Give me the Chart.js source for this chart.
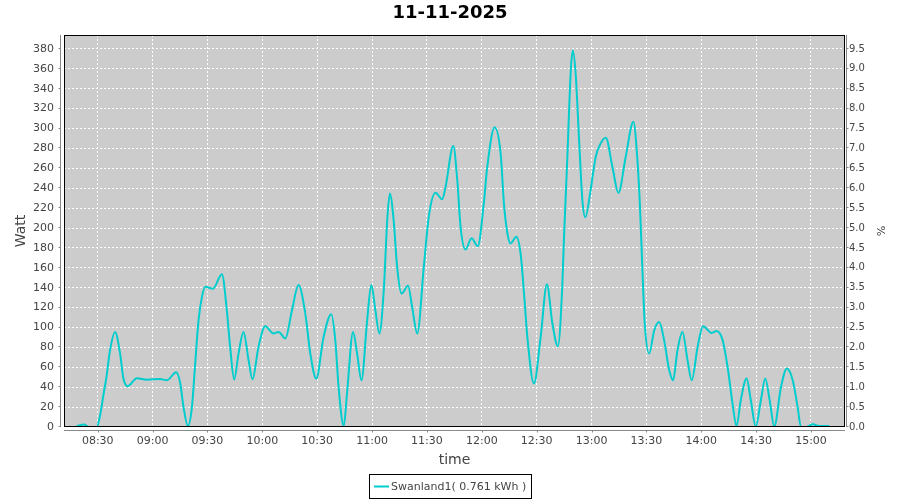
<!DOCTYPE html>
<html>
<head>
<meta charset="utf-8">
<script src="https://cdn.jsdelivr.net/npm/chart.js@4.4.1/dist/chart.umd.min.js"></script>
<style>
  html, body { margin: 0; padding: 0; background: #ffffff; }
  #wrap { width: 900px; height: 500px; }
</style>
</head>
<body>
<div id="wrap"><canvas id="c" width="900" height="500"></canvas></div>
<script>
// ---- data ----
const chartTitle = '11-11-2025';
const seriesLabel = 'Swanland1( 0.761 kWh )';
const xTitle = 'time';
const yLeftTitle = 'Watt';
const yRightTitle = '%';

// time of each reading, in minutes after midnight
const minutes = [498.5, 502.5, 505.2, 509.5, 511.3, 513.1, 514.9, 516.7, 519.5, 522.2,
  524.0, 526.4, 531.4, 536.8, 544.1, 547.8, 552.9, 555.1, 556.9, 559.3,
  561.5, 563.3, 565.1, 567.0, 568.8, 573.0, 577.9, 580.6, 582.4, 584.6,
  587.0, 589.7, 592.5, 594.6, 597.9, 601.6, 606.1, 608.9, 612.6, 616.2,
  619.8, 623.5, 626.2, 629.5, 633.5, 637.7, 639.9, 641.7, 644.5, 646.3,
  649.6, 651.8, 654.2, 657.3, 659.6, 661.8, 664.0, 666.4, 668.3, 669.7,
  671.8, 673.7, 676.1, 679.7, 681.9, 684.7, 688.3, 691.0, 694.7, 698.3,
  700.2, 704.4, 706.6, 708.4, 711.1, 714.4, 717.8, 721.1, 723.0, 727.0,
  730.3, 732.1, 734.0, 735.7, 738.9, 741.2, 743.1, 744.9, 748.5, 752.2,
  755.6, 758.6, 761.6, 764.0, 764.9, 766.8, 768.6, 769.7, 771.3, 773.2,
  775.0, 776.6, 779.5, 782.3, 785.0, 787.8, 791.4, 794.7, 798.7, 802.9,
  805.1, 806.5, 807.9, 809.1, 811.5, 814.3, 817.0, 819.7, 822.5, 824.6,
  827.0, 829.7, 832.5, 834.8, 838.0, 841.0, 845.7, 848.4, 851.7, 854.4,
  857.1, 859.3, 861.6, 864.8, 867.1, 869.8, 872.6, 875.0, 877.4, 879.9,
  883.6, 886.8, 890.0, 892.7, 894.5, 897.3, 901.1, 904.4, 910.0];

// power in watt at each reading
const watts = [1, 2.4, 0, 0, 12, 32, 52, 77, 95.5, 74,
  49, 41, 49, 47.5, 48.3, 47, 55, 44, 20, 1,
  20, 64, 107, 131, 141, 139, 153.6, 117, 80.5, 47.7,
  74, 95.6, 67, 48, 80.5, 101.3, 94, 95.6, 89, 117.4,
  142.6, 114, 74, 48.7, 90.6, 113.4, 87, 40, 1, 33.6,
  95.6, 74, 47, 107, 142.6, 117.4, 94, 137.5, 208, 234.8,
  208, 161, 134.2, 141.9, 120.7, 94, 161, 211.3, 235.4, 229,
  241.5, 282.4, 248, 201, 178.5, 189.6, 181.8, 224.8, 261.6, 301.2,
  275, 224.8, 194.6, 184.5, 191.2, 174.5, 134.2, 90.6, 43.7, 90.6,
  143.6, 104, 81.2, 141, 188, 272, 356, 378.3, 355.6, 288.5,
  228, 210.7, 238.2, 271.7, 285.1, 290.8, 261.6, 235.4, 271.7, 306.9,
  268.3, 221.3, 154.3, 104, 73.8, 97.3, 105.6, 87.2, 57, 47,
  77.2, 95.6, 67.1, 47, 80.5, 101.3, 94.6, 96.6, 87.2, 60.4,
  23.5, 1, 26.9, 48.7, 26.9, 0.5, 26.9, 48.7, 26.9, 0.5,
  40.2, 58.8, 47, 20, 0, 0, 2.7, 1, 1];

const xTickLabels = ['08:30', '09:00', '09:30', '10:00', '10:30', '11:00', '11:30',
  '12:00', '12:30', '13:00', '13:30', '14:00', '14:30', '15:00'];
const yLeftTicks = [0, 20, 40, 60, 80, 100, 120, 140, 160, 180, 200, 220, 240, 260,
  280, 300, 320, 340, 360, 380];
const yRightTicks = [0.0, 0.5, 1.0, 1.5, 2.0, 2.5, 3.0, 3.5, 4.0, 4.5, 5.0, 5.5, 6.0,
  6.5, 7.0, 7.5, 8.0, 8.5, 9.0, 9.5];

const xRange = ['08:11:33', '15:18:36'];
const yLeftMax = 394;
const yRightMax = 9.85;

// ---- helpers ----
function toMin(s) {
  const p = s.split(':').map(Number);
  return p[0] * 60 + p[1] + (p[2] || 0) / 60;
}
function fmtMin(v) {
  const h = Math.floor(v / 60), m = Math.round(v - h * 60);
  return String(h).padStart(2, '0') + ':' + String(m).padStart(2, '0');
}

Chart.defaults.font.family = '"DejaVu Sans", sans-serif';
const tickFont = { family: '"DejaVu Sans", sans-serif', size: 11 };
const tickColor = '#444444';
const lineColor = '#00cdcd';

const framePlugin = {
  id: 'frame',
  beforeDraw(chart) {
    const { ctx, chartArea: a } = chart;
    ctx.save();
    ctx.fillStyle = '#cccccc';
    ctx.fillRect(a.left, a.top, a.right - a.left, a.bottom - a.top);
    ctx.restore();
  },
  afterDatasetsDraw(chart) {
    const { ctx, chartArea: a, scales } = chart;
    ctx.save();
    ctx.strokeStyle = '#000000';
    ctx.lineWidth = 1;
    ctx.strokeRect(a.left + 0.5, a.top + 0.5, a.right - a.left - 1, a.bottom - a.top - 1);

    ctx.strokeStyle = '#888888';
    ctx.beginPath();
    // left axis line with ticks
    const lx = a.left - 3.5;
    ctx.moveTo(lx, a.top); ctx.lineTo(lx, a.bottom);
    scales.y.ticks.forEach(t => {
      const py = Math.round(scales.y.getPixelForValue(t.value)) - 0.5;
      ctx.moveTo(lx - 2, py); ctx.lineTo(lx, py);
    });
    // right axis line with ticks
    const rx = a.right + 1.5;
    ctx.moveTo(rx, a.top); ctx.lineTo(rx, a.bottom);
    scales.y2.ticks.forEach(t => {
      const py = Math.round(scales.y2.getPixelForValue(t.value)) - 0.5;
      ctx.moveTo(rx, py); ctx.lineTo(rx + 2, py);
    });
    // bottom axis line with ticks
    const by = a.bottom + 3.5;
    ctx.moveTo(a.left, by); ctx.lineTo(a.right, by);
    scales.x.ticks.forEach(t => {
      const px = Math.round(scales.x.getPixelForValue(t.value)) + 0.5;
      ctx.moveTo(px, by); ctx.lineTo(px, by + 2);
    });
    ctx.stroke();
    ctx.restore();
  },
  afterDraw(chart) {
    // boxed legend below the plot
    const ctx = chart.ctx;
    const ds = chart.data.datasets[0];
    ctx.save();
    ctx.font = '11px "DejaVu Sans", sans-serif';
    const tw = ctx.measureText(ds.label).width;
    const padL = 5, sample = 15, gap = 2, padR = 5;
    const w = Math.round(padL + sample + gap + tw + padR);
    const x0 = Math.round(449.5 - w / 2);
    const y0 = 474, h = 24;
    ctx.strokeStyle = '#000000';
    ctx.lineWidth = 1;
    ctx.strokeRect(x0 + 0.5, y0 + 0.5, w, h);
    ctx.strokeStyle = ds.borderColor;
    ctx.lineWidth = 2;
    ctx.beginPath();
    ctx.moveTo(x0 + padL, y0 + 12.5);
    ctx.lineTo(x0 + padL + sample, y0 + 12.5);
    ctx.stroke();
    ctx.fillStyle = tickColor;
    ctx.textBaseline = 'middle';
    ctx.textAlign = 'left';
    ctx.fillText(ds.label, x0 + padL + sample + gap, y0 + 13);
    ctx.restore();
  }
};

const points = minutes.map((m, i) => ({ x: m, y: watts[i] }));

new Chart(document.getElementById('c'), {
  type: 'line',
  data: {
    datasets: [{
      label: seriesLabel,
      data: points,
      borderColor: lineColor,
      backgroundColor: lineColor,
      borderWidth: 2,
      pointRadius: 0,
      fill: false,
      cubicInterpolationMode: 'monotone',
      yAxisID: 'y'
    }]
  },
  options: {
    responsive: false,
    animation: false,
    devicePixelRatio: 1,
    layout: { padding: 0 },
    plugins: {
      legend: { display: false },
      tooltip: { enabled: false },
      title: {
        display: true,
        text: chartTitle,
        color: '#000000',
        font: { family: '"DejaVu Sans", sans-serif', size: 18, weight: 'bold' },
        padding: { top: 2.2, bottom: 11.2 }
      }
    },
    scales: {
      x: {
        type: 'linear',
        min: toMin(xRange[0]),
        max: toMin(xRange[1]),
        afterBuildTicks: s => { s.ticks = xTickLabels.map(l => ({ value: toMin(l) })); },
        afterFit: s => { s.height = 73; },
        ticks: {
          autoSkip: false, maxRotation: 0, padding: 8,
          color: tickColor, font: tickFont,
          callback: v => fmtMin(v)
        },
        grid: { color: '#ffffff', lineWidth: 1, drawTicks: false },
        border: { display: false, dash: [2, 2] },
        title: {
          display: true, text: xTitle, color: tickColor,
          font: { family: '"DejaVu Sans", sans-serif', size: 14 },
          padding: { top: 0, bottom: 31.6 }
        }
      },
      y: {
        type: 'linear',
        position: 'left',
        min: 0,
        max: yLeftMax,
        afterBuildTicks: s => { s.ticks = yLeftTicks.map(v => ({ value: v })); },
        afterFit: s => { s.width = 64; },
        ticks: { padding: 10, color: tickColor, font: tickFont, callback: v => String(v) },
        grid: { color: '#ffffff', lineWidth: 1, drawTicks: false },
        border: { display: false, dash: [2, 2] },
        title: {
          display: true, text: yLeftTitle, color: tickColor,
          font: { family: '"DejaVu Sans", sans-serif', size: 14 },
          padding: { top: 12.6, bottom: 0 }
        }
      },
      y2: {
        type: 'linear',
        position: 'right',
        min: 0,
        max: yRightMax,
        afterBuildTicks: s => { s.ticks = yRightTicks.map(v => ({ value: v })); },
        afterFit: s => { s.width = 55; },
        ticks: { padding: 4, color: tickColor, font: { family: '"DejaVu Sans", sans-serif', size: 10 }, callback: v => Number(v).toFixed(1) },
        grid: { drawOnChartArea: false, drawTicks: false },
        border: { display: false },
        title: {
          display: true, text: yRightTitle, color: tickColor,
          font: { family: '"DejaVu Sans", sans-serif', size: 11 },
          padding: { top: 13.4, bottom: 0 }
        }
      }
    }
  },
  plugins: [framePlugin]
});
</script>
</body>
</html>
